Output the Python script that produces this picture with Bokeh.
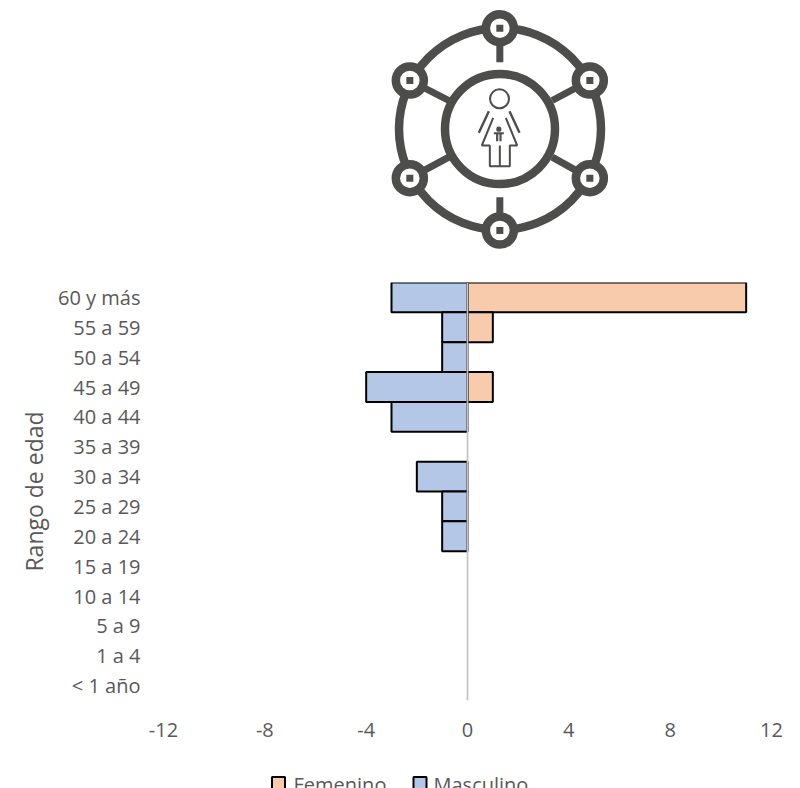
from bokeh.plotting import figure
from bokeh.layouts import column
from bokeh.models import Range1d, FactorRange, Span, FixedTicker, ColumnDataSource
from bokeh.core.properties import value
from bokeh.embed import file_html
from bokeh.resources import INLINE

categories = ["60 y más", "55 a 59", "50 a 54", "45 a 49", "40 a 44", "35 a 39", "30 a 34",
              "25 a 29", "20 a 24", "15 a 19", "10 a 14", "5 a 9", "1 a 4", "< 1 año"]
femenino = [11, 1, 0, 1, 0, 0, 0, 0, 0, 0, 0, 0, 0, 0]
masculino = [-3, -1, -1, -4, -3, 0, -2, -1, -1, 0, 0, 0, 0, 0]
x_ticks = [-12, -8, -4, 0, 4, 8, 12]
series_names = ["Femenino", "Masculino"]
series_colors = ["#F8CBAD", "#B4C7E7"]
FONT = "Open Sans"
TXT = "#595959"
ICON = "#4D4D4B"
BL, BR = 163, 29

# ---------- decorative icon (page-pixel coordinates) ----------
ic = figure(width=800, height=270, x_range=Range1d(163, 771), y_range=Range1d(270, 0),
            output_backend="svg", toolbar_location=None, outline_line_color=None,
            min_border_left=BL, min_border_right=BR, min_border_top=0, min_border_bottom=0)
ic.axis.visible = False
ic.grid.visible = False
cx, cy = 499.5, 128.5
zx = lambda v: 380 + v / 3
zy = lambda v: v / 3
ic.circle([cx], [cy], radius=101, fill_color=None, line_color=ICON, line_width=8.5)
nodes = [(358, 83), (628, 240), (628, 533), (358, 690), (88, 533), (88, 240)]
spokes = [[(358, 83), (358, 185)], [(358, 690), (358, 590)],
          [(628, 240), (515, 300)], [(628, 533), (515, 470)],
          [(88, 240), (205, 300)], [(88, 533), (205, 470)]]
ic.multi_line([[zx(a[0]), zx(b[0])] for a, b in spokes], [[zy(a[1]), zy(b[1])] for a, b in spokes],
              line_color=ICON, line_width=7)
ic.circle([cx], [cy], radius=55, fill_color="white", line_color=ICON, line_width=8.5)
ic.circle([zx(n[0]) for n in nodes], [zy(n[1]) for n in nodes], radius=14,
          fill_color="white", line_color=ICON, line_width=8.5)
ic.rect([zx(n[0]) for n in nodes], [zy(n[1]) for n in nodes], width=7, height=7,
        fill_color=ICON, line_color=None)
# woman
ic.circle([zx(357)], [zy(295)], radius=9.5, fill_color="white", line_color=ICON, line_width=2)
ic.multi_line([[zx(325), zx(295)], [zx(387), zx(417)]], [[zy(332), zy(397)], [zy(332), zy(397)]],
              line_color=ICON, line_width=2.4)
dx = [338, 304, 328, 328, 388, 388, 410, 376]
dy = [352, 435, 435, 497, 497, 435, 435, 352]
ic.line([zx(v) for v in dx], [zy(v) for v in dy], line_color=ICON, line_width=2)
ic.line([zx(358), zx(358)], [zy(435), zy(497)], line_color=ICON, line_width=2)
# child
ic.circle([zx(355)], [zy(386)], radius=2.6, fill_color=ICON, line_color=None)
ic.rect([zx(355)], [zy(398)], width=10, height=2, fill_color=ICON, line_color=None)
ic.rect([zx(350), zx(360)], [zy(410), zy(410)], width=2.2, height=8, fill_color=ICON, line_color=None)

# ---------- chart ----------
p = figure(width=800, height=482, x_range=Range1d(-12, 12),
           y_range=FactorRange(factors=categories[::-1], range_padding=0),
           output_backend="svg", toolbar_location=None,
           min_border_left=BL, min_border_right=BR, min_border_top=12, min_border_bottom=52,
           outline_line_color=None)
p.grid.visible = False

f_src = ColumnDataSource(dict(y=[c for c, v in zip(categories, femenino) if v],
                              v=[v for v in femenino if v]))
m_src = ColumnDataSource(dict(y=[c for c, v in zip(categories, masculino) if v],
                              v=[v for v in masculino if v]))
p.hbar(y="y", right="v", left=0, height=1, source=f_src,
       fill_color=series_colors[0], line_color="black", line_width=2)
p.hbar(y="y", right="v", left=0, height=1, source=m_src,
       fill_color=series_colors[1], line_color="black", line_width=2)
p.add_layout(Span(location=0, dimension="height", line_color="#C4C4C4", line_width=1.7))

p.xaxis.ticker = FixedTicker(ticks=x_ticks)
p.xaxis.major_label_overrides = {t: str(t) for t in x_ticks}
p.xaxis.axis_line_color = None
p.xaxis.major_tick_line_color = None
p.xaxis.minor_tick_line_color = None
p.xaxis.major_label_text_font = FONT
p.xaxis.major_label_text_font_size = "20px"
p.xaxis.major_label_text_color = TXT
p.xaxis.major_label_standoff = 16

p.yaxis.axis_line_color = None
p.yaxis.major_tick_line_color = None
p.yaxis.minor_tick_line_color = None
p.yaxis.major_label_text_font = FONT
p.yaxis.major_label_text_font_size = "20px"
p.yaxis.major_label_text_color = TXT
p.yaxis.major_label_standoff = 17
p.yaxis.axis_label = "Rango de edad"
p.yaxis.axis_label_text_font = FONT
p.yaxis.axis_label_text_font_size = "23px"
p.yaxis.axis_label_text_font_style = "normal"
p.yaxis.axis_label_text_color = TXT
p.yaxis.axis_label_standoff = 5

# ---------- legend strip (page-pixel coordinates; clipped by the page edge as in the reference) ----------
lg = figure(width=800, height=36, x_range=Range1d(163, 771), y_range=Range1d(788, 752),
            output_backend="svg", toolbar_location=None, outline_line_color=None,
            min_border_left=BL, min_border_right=BR, min_border_top=0, min_border_bottom=0)
lg.axis.visible = False
lg.grid.visible = False
lg.rect([278, 419.5], [783, 783], width=13, height=13, fill_color=series_colors,
        line_color="black", line_width=2)
lg.text([293, 433], [784, 784], text=series_names, text_font=value(FONT), text_font_size="20px",
        text_color=TXT, text_align="left", text_baseline="alphabetic")

page = column(ic, p, lg, spacing=0)
open("out.html", "w").write(file_html(page, INLINE))
